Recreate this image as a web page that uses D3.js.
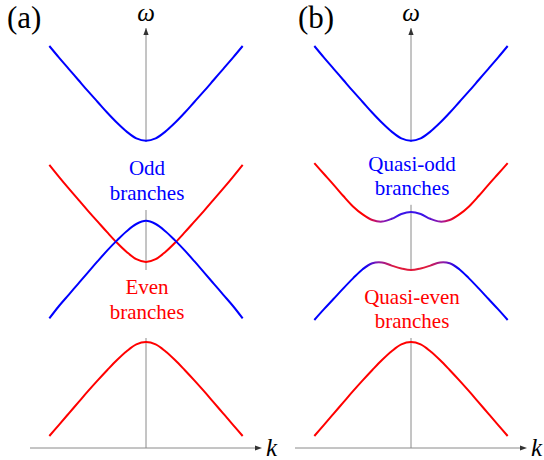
<!DOCTYPE html>
<html lang="en">
<head>
<meta charset="UTF-8">
<script src="https://d3js.org/d3.v7.min.js"></script>
<title>Branches</title>
<style>
  * { margin: 0; padding: 0; }
  body { background: #fff; }
  svg { display: block; }
  svg text { font-family: "Liberation Serif", "Tinos", "DejaVu Serif", serif; }
</style>
</head>
<body>
<svg id="chart" width="544" height="460"></svg>
<script>
// wave number samples shared by every branch
const kVals = [-1, -0.9, -0.8, -0.7, -0.6, -0.5, -0.4, -0.3, -0.2, -0.1, 0,
               0.1, 0.2, 0.3, 0.4, 0.5, 0.6, 0.7, 0.8, 0.9, 1];

// panel (a): uncoupled branches
const oddUpperA  = [10.05, 9.76, 9.48, 9.20, 8.92, 8.65, 8.38, 8.13, 7.91, 7.74, 7.68,
                    7.74, 7.91, 8.13, 8.38, 8.65, 8.92, 9.20, 9.48, 9.76, 10.05];
const evenUpperA = [7.08, 6.78, 6.49, 6.21, 5.93, 5.66, 5.39, 5.13, 4.90, 4.72, 4.65,
                    4.72, 4.90, 5.13, 5.39, 5.66, 5.93, 6.21, 6.49, 6.78, 7.08];
const oddLowerA  = [3.24, 3.55, 3.83, 4.11, 4.39, 4.67, 4.94, 5.19, 5.42, 5.60, 5.68,
                    5.60, 5.42, 5.19, 4.94, 4.67, 4.39, 4.11, 3.83, 3.55, 3.24];
const evenLowerA = [0.30, 0.58, 0.86, 1.14, 1.42, 1.69, 1.95, 2.20, 2.42, 2.59, 2.65,
                    2.59, 2.42, 2.20, 1.95, 1.69, 1.42, 1.14, 0.86, 0.58, 0.30];

// panel (b): coupled branches
const oddUpperB  = [10.05, 9.76, 9.48, 9.20, 8.92, 8.65, 8.38, 8.13, 7.91, 7.74, 7.68,
                    7.74, 7.91, 8.13, 8.38, 8.65, 8.92, 9.20, 9.48, 9.76, 10.05];
const quasiOddB  = [7.12, 6.85, 6.58, 6.30, 6.04, 5.84, 5.70, 5.66, 5.73, 5.85, 5.90,
                    5.85, 5.73, 5.66, 5.70, 5.84, 6.04, 6.30, 6.58, 6.85, 7.12];
const quasiEvenB = [3.20, 3.47, 3.73, 3.99, 4.24, 4.47, 4.62, 4.64, 4.56, 4.49, 4.45,
                    4.49, 4.56, 4.64, 4.62, 4.47, 4.24, 3.99, 3.73, 3.47, 3.20];
const evenLowerB = [0.30, 0.58, 0.86, 1.14, 1.42, 1.69, 1.95, 2.20, 2.42, 2.59, 2.65,
                    2.59, 2.42, 2.20, 1.95, 1.69, 1.42, 1.14, 0.86, 0.58, 0.30];

// visible pieces of the omega axis (in omega units)
const axisPiecesA = [[0, 2.75], [4.45, 5.95], [7.65, 10.5]];
const axisPiecesB = [[0, 2.75], [4.45, 6.08], [7.65, 10.5]];

const labelsA = [["Odd", "branches"], ["Even", "branches"]];
const labelsB = [["Quasi-odd", "branches"], ["Quasi-even", "branches"]];

const BLUE = '#0000ff';
const RED = '#ff0000';
const SERIF = '"Liberation Serif", Tinos, "DejaVu Serif", serif';

const svg = d3.select('#chart');
const defs = svg.append('defs');

const y = d3.scaleLinear().domain([0, 10.5]).range([448, 28]);

const panels = [
    {
        tag: '(a)', tagX: 7, range: [30, 262], axis: axisPiecesA,
        curves: [
            { w: oddUpperA, stroke: BLUE },
            { w: evenUpperA, stroke: RED },
            { w: oddLowerA, stroke: BLUE },
            { w: evenLowerA, stroke: RED }
        ],
        labels: labelsA, labelColors: [BLUE, RED], labelY: [[175, 200], [294, 319]]
    },
    {
        tag: '(b)', tagX: 298, range: [295, 527], axis: axisPiecesB,
        curves: [
            { w: oddUpperB, stroke: BLUE },
            { w: quasiOddB, grad: 'gOdd', stops: [[0, RED], [0.26, RED], [0.34, '#a3189c'], [0.43, '#3c14e8'], [0.5, '#3c14e8'], [0.57, '#3c14e8'], [0.66, '#a3189c'], [0.74, RED], [1, RED]] },
            { w: quasiEvenB, grad: 'gEven', stops: [[0, BLUE], [0.25, BLUE], [0.33, '#8c1aa8'], [0.42, '#e01a3c'], [0.5, '#e01a3c'], [0.58, '#e01a3c'], [0.67, '#8c1aa8'], [0.75, BLUE], [1, BLUE]] },
            { w: evenLowerB, stroke: RED }
        ],
        labels: labelsB, labelColors: [BLUE, RED], labelY: [[171, 195], [304, 328]]
    }
];

panels.forEach(p => {
    const x = d3.scaleLinear().domain([-1.2, 1.2]).range(p.range);
    const g = svg.append('g');
    const x0 = x(0);

    // omega axis pieces
    g.selectAll('line.wax')
        .data(p.axis)
        .enter()
        .append('line')
        .attr('class', 'wax')
        .attr('x1', x0).attr('x2', x0)
        .attr('y1', d => y(d[0])).attr('y2', d => y(d[1]))
        .attr('stroke', '#8a8a8a')
        .attr('stroke-width', 1);

    // k axis
    g.append('line')
        .attr('x1', x(-1.2)).attr('x2', x(1.2) - 4)
        .attr('y1', y(0)).attr('y2', y(0))
        .attr('stroke', '#8a8a8a')
        .attr('stroke-width', 1);

    // arrow heads
    const tipY = y(10.5);
    g.append('path')
        .attr('d', `M${x0},${tipY} L${x0 - 2.6},${tipY + 7} L${x0 + 2.6},${tipY + 7} Z`)
        .attr('fill', '#333');
    const tipX = x(1.2);
    g.append('path')
        .attr('d', `M${tipX},${y(0)} L${tipX - 7},${y(0) - 2.6} L${tipX - 7},${y(0) + 2.6} Z`)
        .attr('fill', '#333');

    // axis names
    g.append('text')
        .attr('x', x0).attr('y', 21)
        .attr('text-anchor', 'middle')
        .attr('font-family', SERIF)
        .attr('font-style', 'italic')
        .attr('font-size', 25)
        .text('ω');
    g.append('text')
        .attr('x', tipX + 4).attr('y', 456)
        .attr('font-family', SERIF)
        .attr('font-style', 'italic')
        .attr('font-size', 25)
        .text('k');

    // panel tag
    g.append('text')
        .attr('x', p.tagX).attr('y', 28)
        .attr('font-family', SERIF)
        .attr('font-size', 31)
        .text(p.tag);

    // branches
    const line = d3.line()
        .x(d => x(d[0]))
        .y(d => y(d[1]))
        .curve(d3.curveCatmullRom.alpha(0.5));

    p.curves.forEach(c => {
        let stroke = c.stroke;
        if (c.grad) {
            const lg = defs.append('linearGradient')
                .attr('id', c.grad)
                .attr('gradientUnits', 'userSpaceOnUse')
                .attr('x1', x(-1)).attr('x2', x(1))
                .attr('y1', 0).attr('y2', 0);
            lg.selectAll('stop')
                .data(c.stops)
                .enter()
                .append('stop')
                .attr('offset', d => d[0])
                .attr('stop-color', d => d[1]);
            stroke = 'url(#' + c.grad + ')';
        }
        g.append('path')
            .datum(kVals.map((k, i) => [k, c.w[i]]))
            .attr('d', line)
            .attr('fill', 'none')
            .attr('stroke', stroke)
            .attr('stroke-width', 2);
    });

    // branch labels
    p.labels.forEach((lines, i) => {
        lines.forEach((t, j) => {
            g.append('text')
                .attr('x', x0 + 1).attr('y', p.labelY[i][j])
                .attr('text-anchor', 'middle')
                .attr('font-family', SERIF)
                .attr('font-size', 21)
                .attr('fill', p.labelColors[i])
                .text(t);
        });
    });
});
</script>
</body>
</html>
